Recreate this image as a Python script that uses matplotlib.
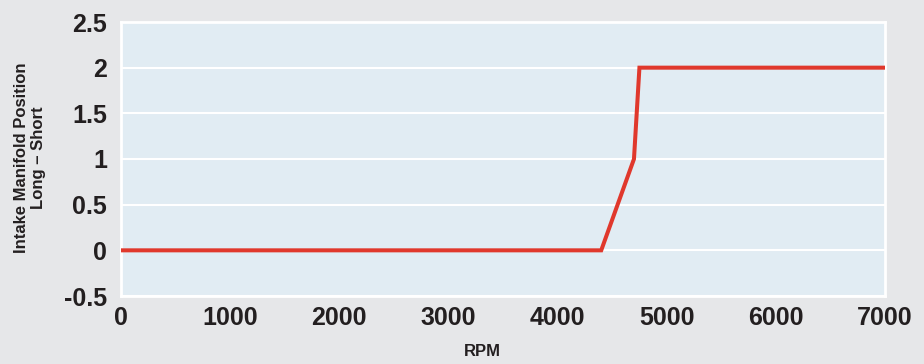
import matplotlib.pyplot as plt

# RPM vs intake manifold position
rpm = [0, 4400, 4700, 4750, 7000]
position = [0, 0, 1, 2, 2]
x_ticks = [0, 1000, 2000, 3000, 4000, 5000, 6000, 7000]
y_ticks = [-0.5, 0, 0.5, 1, 1.5, 2, 2.5]
y_tick_labels = ['-0.5', '0', '0.5', '1', '1.5', '2', '2.5']

plt.rcParams['font.family'] = ['Liberation Sans', 'DejaVu Sans']
txt = '#231f20'

fig = plt.figure(figsize=(9.24, 3.64), dpi=100, facecolor='#e6e7e9')
ax = fig.add_axes([121/924, 1 - 296/364, (885-121)/924, (296-22)/364])
ax.set_facecolor('#e1ecf3')

ax.plot(rpm, position, color='#e0382c', linewidth=2.9, solid_joinstyle='miter', zorder=3)

ax.set_xlim(0, 7000)
ax.set_ylim(-0.5, 2.5)
ax.set_xticks(x_ticks)
ax.set_yticks(y_ticks)
ax.set_yticklabels(y_tick_labels)
ax.tick_params(length=0, labelsize=18, colors=txt)
ax.tick_params(axis='x', pad=7)
ax.tick_params(axis='y', pad=10)
for lab in ax.get_xticklabels() + ax.get_yticklabels():
    lab.set_fontweight('bold')

ax.grid(axis='y', color='white', linewidth=1.5)
ax.set_axisbelow(True)
for s in ax.spines.values():
    s.set_color('white')
    s.set_linewidth(2)

# axis titles
fig.text(482/924, 1 - 352/364, 'RPM', ha='center', va='center',
         fontsize=12, fontweight='bold', color=txt)
fig.text(30/924, 1 - 158/364, 'Intake Manifold Position\nLong \u2013 Short',
         rotation=90, ha='center', va='center', multialignment='center',
         fontsize=12, fontweight='bold', color=txt, linespacing=1.15)

fig.savefig('out.png', dpi=100, facecolor=fig.get_facecolor())
